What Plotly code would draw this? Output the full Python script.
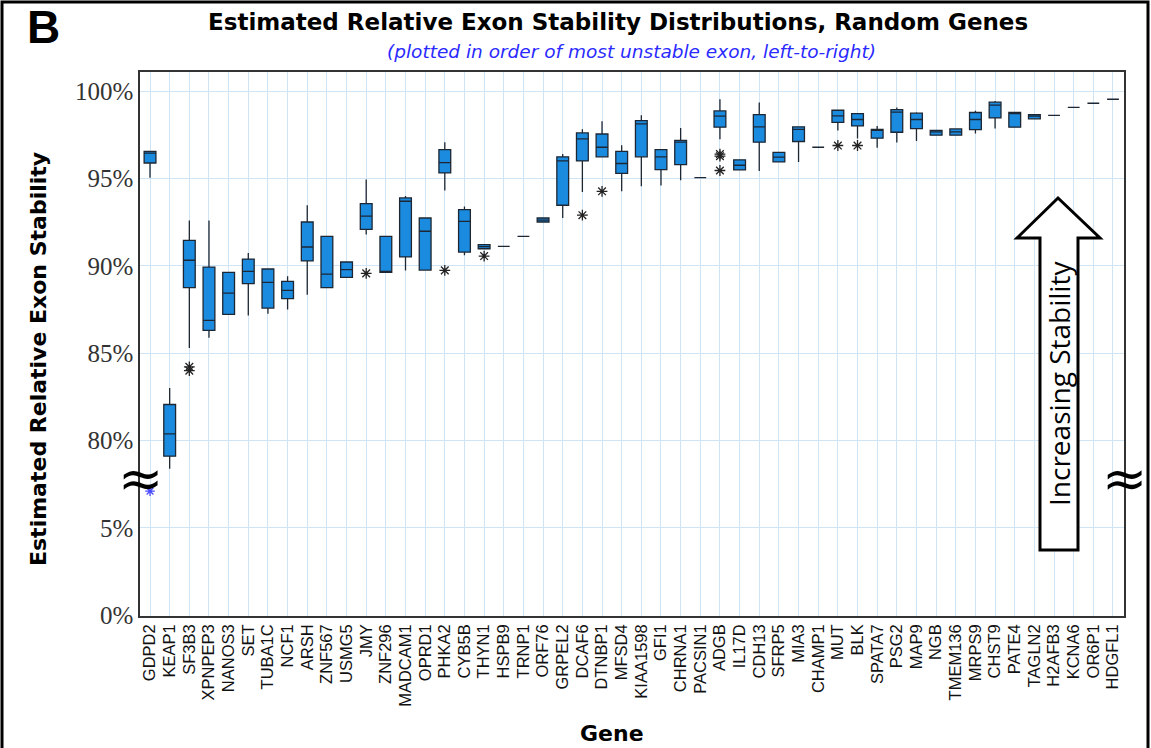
import plotly.graph_objects as go

# ---------------- data (values in %) ----------------
genes = ["GDPD2", "KEAP1", "SF3B3", "XPNPEP3", "NANOS3", "SET", "TUBA1C", "NCF1", "ARSH", "ZNF567",
         "USMG5", "JMY", "ZNF296", "MADCAM1", "OPRD1", "PHKA2", "CYB5B", "THYN1", "HSPB9", "TRNP1",
         "ORF76", "GRPEL2", "DCAF6", "DTNBP1", "MFSD4", "KIAA1598", "GFI1", "CHRNA1", "PACSIN1", "ADGB",
         "IL17D", "CDH13", "SFRP5", "MIA3", "CHAMP1", "MUT", "BLK", "SPATA7", "PSG2", "MAP9",
         "NGB", "TMEM136", "MRPS9", "CHST9", "PATE4", "TAGLN2", "H2AFB3", "KCNA6", "OR6P1", "HDGFL1"]

q3 = [96.56, 82.06, 91.46, 89.93, 89.63, 90.39, 89.82, 89.11, 92.51, 91.69,
      90.22, 93.56, 91.69, 93.89, 92.74, 96.66, 93.22, 91.21, 91.12, 91.69,
      92.74, 96.24, 97.61, 97.55, 96.56, 98.32, 96.66, 97.19, 95.05, 98.87,
      96.07, 98.66, 96.50, 97.96, 96.79, 98.91, 98.72, 97.82, 98.95, 98.74,
      97.76, 97.84, 98.78, 99.37, 98.78, 98.66, 98.62, 99.08, 99.31, 99.54]
median = [96.45, 80.38, 90.32, 86.88, 88.44, 89.68, 89.05, 88.60, 91.08, 89.53,
          89.78, 92.85, 89.65, 93.70, 91.98, 95.91, 92.55, 91.10, 91.12, 91.69,
          92.62, 96.01, 97.27, 96.79, 95.86, 98.13, 96.24, 97.08, 95.05, 98.57,
          95.76, 97.96, 96.22, 97.82, 96.79, 98.59, 98.38, 97.76, 98.80, 98.38,
          97.67, 97.67, 98.38, 99.20, 98.76, 98.57, 98.62, 99.08, 99.31, 99.54]
q1 = [95.89, 79.10, 88.75, 86.30, 87.22, 88.98, 87.58, 88.12, 90.28, 88.75,
      89.34, 92.09, 89.63, 90.51, 89.76, 95.32, 90.79, 90.98, 91.12, 91.69,
      92.51, 93.47, 96.01, 96.24, 95.30, 96.24, 95.51, 95.80, 95.05, 97.94,
      95.49, 97.08, 95.95, 97.12, 96.79, 98.22, 98.01, 97.31, 97.65, 97.86,
      97.48, 97.48, 97.80, 98.47, 97.94, 98.42, 98.62, 99.08, 99.31, 99.54]
upper = [96.56, 83.00, 92.60, 92.60, 89.63, 90.73, 89.82, 89.40, 93.47, 91.69,
         90.22, 94.94, 91.69, 94.00, 92.74, 97.08, 93.40, 91.21, 91.12, 91.69,
         92.74, 96.40, 97.82, 98.28, 96.90, 98.62, 96.66, 97.90, 95.05, 99.54,
         96.07, 99.35, 96.50, 98.00, 96.79, 98.91, 98.72, 98.01, 99.07, 98.80,
         97.76, 97.84, 98.88, 99.44, 98.78, 98.66, 98.62, 99.08, 99.31, 99.54]
lower = [95.05, 78.38, 85.29, 85.88, 87.22, 87.16, 87.26, 87.50, 88.35, 88.75,
         89.34, 91.79, 89.63, 89.74, 89.76, 94.31, 90.60, 90.98, 91.12, 91.69,
         92.51, 92.74, 94.23, 96.24, 94.27, 94.56, 94.60, 94.90, 95.05, 97.25,
         95.49, 95.43, 95.95, 95.95, 96.79, 97.75, 97.29, 96.76, 97.06, 97.15,
         97.48, 97.48, 97.58, 97.86, 97.94, 98.42, 98.62, 99.08, 99.31, 99.54]

outlier_gene = ["SF3B3", "SF3B3", "JMY", "PHKA2", "THYN1", "DCAF6", "DTNBP1",
                "ADGB", "ADGB", "ADGB", "MUT", "BLK"]
outlier_val = [84.00, 84.22, 89.57, 89.74, 90.56, 92.90, 94.27,
               96.28, 96.40, 95.46, 96.89, 96.89]
low_outlier_gene = ["GDPD2"]
low_outlier_val = [7.1]

tick_vals_pct = [0, 5, 80, 85, 90, 95, 100]
tick_labels = ["0%", "5%", "80%", "85%", "90%", "95%", "100%"]


# broken axis: 0-5% -> 0..1, 80-100% -> 2..6
def tv(v):
    return v / 5.0 if v < 50 else 2 + (v - 80) / 5.0


xi = list(range(len(genes)))
pos = {g: i for i, g in enumerate(genes)}

fig = go.Figure()
fig.add_trace(go.Box(
    x=xi,
    q1=[tv(v) for v in q1], median=[tv(v) for v in median], q3=[tv(v) for v in q3],
    lowerfence=[tv(v) for v in lower], upperfence=[tv(v) for v in upper],
    width=0.6, whiskerwidth=0, boxpoints=False,
    fillcolor="#1b8be0", line=dict(color="#1d2733", width=1.3),
    showlegend=False, hoverinfo="skip"))

fig.add_trace(go.Scatter(
    x=[pos[g] for g in outlier_gene], y=[tv(v) for v in outlier_val], mode="markers",
    marker=dict(symbol="asterisk-open", size=9, color="#222", line=dict(color="#222", width=1.3)),
    showlegend=False, hoverinfo="skip"))
fig.add_trace(go.Scatter(
    x=[pos[g] for g in low_outlier_gene], y=[tv(v) for v in low_outlier_val], mode="markers",
    marker=dict(symbol="asterisk-open", size=8, color="#4a4aff", line=dict(color="#4a4aff", width=1.3)),
    showlegend=False, hoverinfo="skip"))

# ---------------- layout ----------------
W, H = 1151, 748
L, R, T, B = 140, 27, 72, 132
pw, ph = W - L - R, H - T - B


def px(xp):
    return (xp - L) / pw


def py(yp):
    return (H - B - yp) / ph


grid = "#cfe5f6"
fig.update_layout(
    width=W, height=H, margin=dict(l=L, r=R, t=T, b=B),
    paper_bgcolor="white", plot_bgcolor="white",
    xaxis=dict(range=[-0.51, 49.56], tickmode="array", tickvals=xi, ticktext=genes,
               tickangle=-90, showgrid=True, gridcolor=grid, gridwidth=1, zeroline=False,
               showline=True, linecolor="#333", linewidth=1.5, mirror=True, ticks="",
               tickfont=dict(family="Liberation Sans, Arial", size=16.5, color="#111")),
    yaxis=dict(range=[-0.01, 6.22], tickmode="array", tickvals=[tv(v) for v in tick_vals_pct],
               ticktext=tick_labels, showgrid=True, gridcolor=grid, gridwidth=1, zeroline=False,
               showline=True, linecolor="#333", linewidth=1.5, mirror=True, ticks="",
               tickfont=dict(family="Liberation Serif, Times New Roman", size=25, color="#333")),
)

ann = [
    dict(text="<b>B</b>", x=px(43), y=py(27), font=dict(family="Liberation Sans, Arial", size=46, color="black")),
    dict(text="<b>Estimated Relative Exon Stability Distributions, Random Genes</b>", x=px(618), y=py(22),
         font=dict(family="DejaVu Sans", size=23, color="black")),
    dict(text="<i>(plotted in order of most unstable exon, left-to-right)</i>", x=px(631), y=py(52),
         font=dict(family="DejaVu Sans", size=18.5, color="#2a2aff")),
    dict(text="<b>Estimated Relative Exon Stability</b>", x=px(38), y=py(359), textangle=-90,
         font=dict(family="DejaVu Sans", size=22, color="black")),
    dict(text="<b>Gene</b>", x=px(612), y=py(733),
         font=dict(family="DejaVu Sans", size=22, color="black")),
    dict(text="≈", x=px(L), y=py(478), font=dict(family="DejaVu Sans", size=54, color="black")),
    dict(text="≈", x=px(W - R), y=py(478), font=dict(family="DejaVu Sans", size=54, color="black")),
    dict(text="Increasing Stability", x=px(1059), y=py(384), textangle=-90,
         font=dict(family="Open Sans, Noto Sans", size=28, color="black")),
]
for a in ann:
    a.update(xref="paper", yref="paper", showarrow=False, xanchor="center", yanchor="middle")
fig.update_layout(annotations=ann)

# big up arrow (decoration) in paper coordinates
pts = [(1040, 550), (1040, 238), (1017, 238), (1058, 198), (1100, 238), (1078, 238), (1078, 550)]
path = "M " + " L ".join(f"{px(a):.5f},{py(b):.5f}" for a, b in pts) + " Z"
shapes = [
    dict(type="path", path=path, xref="paper", yref="paper",
         line=dict(color="black", width=3), fillcolor="white", layer="above"),
    dict(type="rect", xref="paper", yref="paper", x0=px(2), x1=px(1148), y0=py(2), y1=py(760),
         line=dict(color="black", width=3), fillcolor="rgba(0,0,0,0)"),
]
fig.update_layout(shapes=shapes)

fig.write_html("out.html", config={"displayModeBar": False},
               post_script="document.body.style.margin='0';document.body.style.overflow='hidden';")
